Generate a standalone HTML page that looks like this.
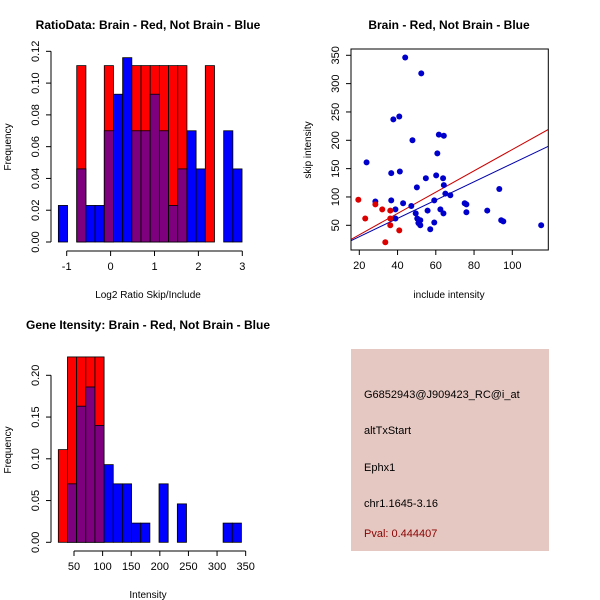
<!DOCTYPE html>
<html><head><meta charset="utf-8"><style>
body{margin:0;background:#fff;}
svg{display:block;font-family:"Liberation Sans",sans-serif;}
</style></head><body>
<svg id="s" width="600" height="600" viewBox="0 0 600 600">
<rect width="600" height="600" fill="#fff"/>
</svg>
<script>
// ---- Histogram 1 data ----
const h1BinStart = -1.19;
const h1BinWidth = 0.2092;
const h1Red  = [0,0,0.111,0,0,0.111,0,0,0.111,0.111,0.111,0.111,0.111,0.111,0,0,0.111,0,0,0];
const h1Blue = [0.023,0,0.046,0.023,0.023,0.070,0.093,0.116,0.070,0.070,0.093,0.070,0.023,0.046,0.070,0.046,0,0,0.070,0.046];
const h1XTicks = [-1,0,1,2,3];
const h1YTicks = ["0.00","0.02","0.04","0.06","0.08","0.10","0.12"];
// ---- Scatter data ----
const blueX = [44,52.4,37.8,40.9,61.6,64.2,47.8,60.8,23.8,36.7,41.2,54.8,60.2,63.8,64.2,50.1,93.2,65.0,67.6,28.4,36.7,42.9,47.2,59.2,75.1,76.0,38.9,55.7,62.4,86.9,49.5,64.0,76.0,38.9,50.3,51.9,50.9,51.9,59.2,57.1,94.2,95.3,115.1];
const blueY = [346,318,237,242,210,208,200,177,161,142,145,133,138,133,121,117,114,106,103,92,94,89,84,94,89,87,78,76,78,76,71,71,73,62,62,59,54,50,55,43,59,57,50];
const redX = [19.5,23.1,28.4,32.0,36.2,36.2,36.2,33.6,40.9];
const redY = [95,62,87,78,76,62,50,20,41];
const redLine = [-4.3,1.88];
const blueLine = [-2.3,1.613];
const scXTicks = [20,40,60,80,100];
const scYTicks = [50,100,150,200,250,300,350];
// ---- Histogram 2 data ----
const h2BinStart = 22.6;
const h2BinWidth = 16;
const h2Red  = [0.111,0.222,0.222,0.222,0.222,0,0,0,0,0,0,0,0,0,0,0,0,0,0,0];
const h2Blue = [0,0.070,0.163,0.186,0.140,0.093,0.070,0.070,0.023,0.023,0,0.070,0,0.046,0,0,0,0,0.023,0.023];
const h2XTicks = [50,100,150,200,250,300,350];
const h2YTicks = ["0.00","0.05","0.10","0.15","0.20"];

const S = document.getElementById('s');
const NS = 'http://www.w3.org/2000/svg';
function mk(tag, attrs, parent){const e=document.createElementNS(NS,tag);for(const k in attrs)e.setAttribute(k,attrs[k]);(parent||S).appendChild(e);return e;}
function txt(x,y,t,size,opts){const e=mk('text',Object.assign({x:x,y:y,'font-size':size,'text-anchor':'middle',fill:'#000'},opts||{}));e.textContent=t;return e;}

function hist(g, red, blue, start, w, X, Y){
  for(let i=0;i<red.length;i++){
    const x0=X(start+i*w), x1=X(start+(i+1)*w);
    const r=red[i], b=blue[i];
    if(r>0){const e=mk('rect',{x:x0,y:Y(r),width:x1-x0,height:Y(0)-Y(r),fill:'#ff0000',stroke:'#000','stroke-width':0.8},g);
      
      }
    if(b>0){const h=Math.min(r>0?r:b,b); 
      if(b>r||r===0){const e=mk('rect',{x:x0,y:Y(b),width:x1-x0,height:Y(0)-Y(b),fill:'#0000ff',stroke:'#000','stroke-width':0.8},g);
        
        }
      if(r>0){const m=Math.min(r,b);const e=mk('rect',{x:x0,y:Y(m),width:x1-x0,height:Y(0)-Y(m),fill:'#7f007f',stroke:'#000','stroke-width':0.8},g);
        
        }
    }
  }
}
function yAxis(g,x,ticks,Y,y0,y1){
  mk('line',{x1:x,y1:y0,x2:x,y2:y1,stroke:'#000'},g);
  ticks.forEach(t=>{const y=Y(parseFloat(t));mk('line',{x1:x-5,y1:y,x2:x,y2:y,stroke:'#000'},g);
    const e=txt(x-12,y,t,11,{transform:`rotate(-90 ${x-12} ${y})`});});
}
function xAxis(g,y,ticks,X){
  mk('line',{x1:X(ticks[0]),y1:y,x2:X(ticks[ticks.length-1]),y2:y,stroke:'#000'},g);
  ticks.forEach(t=>{const x=X(t);mk('line',{x1:x,y1:y,x2:x,y2:y+5,stroke:'#000'},g);
    const e=txt(x,y+19,String(t),11);});
}

// ---- Panel 1 ----
{
const g=mk('g',{});


const X=v=>66.7+(v+1)*43.9, Y=v=>242-v*1589;
hist(g,h1Red,h1Blue,h1BinStart,h1BinWidth,X,Y);
yAxis(g,51,h1YTicks,Y,242,51.3);
xAxis(g,251,h1XTicks,X);
const t=txt(148,29,'RatioData: Brain - Red, Not Brain - Blue',12,{'font-weight':'bold'});
const xl=txt(148,298,'Log2 Ratio Skip/Include',10);
const yl=txt(11,147,'Frequency',10,{transform:'rotate(-90 11 147)'});
}
// ---- Panel 2 ----
{
const g=mk('g',{});


const X=v=>359.3+(v-20)*1.9125, Y=v=>225.3-(v-50)*0.5667;
const L=351,R=548.3,T=49,B=250;
const cp=mk('clipPath',{id:'cp'},g);mk('rect',{x:L,y:T,width:R-L,height:B-T},cp);
const lg=mk('g',{'clip-path':'url(#cp)'},g);
const xa=(L-359.3)/1.9125+20, xb=(R-359.3)/1.9125+20;
const rl=mk('line',{x1:X(xa),y1:Y(redLine[0]+redLine[1]*xa),x2:X(xb),y2:Y(redLine[0]+redLine[1]*xb),stroke:'#cc0000','stroke-width':1},lg);

const bl=mk('line',{x1:X(xa),y1:Y(blueLine[0]+blueLine[1]*xa),x2:X(xb),y2:Y(blueLine[0]+blueLine[1]*xb),stroke:'#0000aa','stroke-width':1},lg);

blueX.forEach((x,i)=>{const c=mk('circle',{cx:X(x),cy:Y(blueY[i]),r:3,fill:'#0000cc'},g);
  });
redX.forEach((x,i)=>{const c=mk('circle',{cx:X(x),cy:Y(redY[i]),r:3,fill:'#dd0000'},g);
  });
mk('rect',{x:L,y:T,width:R-L,height:B-T,fill:'none',stroke:'#000'},g);
scYTicks.forEach(t=>{const y=Y(t);mk('line',{x1:L-5,y1:y,x2:L,y2:y,stroke:'#000'},g);
  const e=txt(L-12,y,String(t),11,{transform:`rotate(-90 ${L-12} ${y})`});});
scXTicks.forEach(t=>{const x=X(t);mk('line',{x1:x,y1:B,x2:x,y2:B+5,stroke:'#000'},g);
  const e=txt(x,B+19,String(t),11);});
const t=txt(449,29,'Brain - Red, Not Brain - Blue',12,{'font-weight':'bold'});
const xl=txt(449,298,'include intensity',10);
const yl=txt(311,150,'skip intensity',10,{transform:'rotate(-90 311 150)'});
}
// ---- Panel 3 ----
{
const g=mk('g',{});


const X=v=>74+(v-50)*0.5722, Y=v=>542.3-v*835;
hist(g,h2Red,h2Blue,h2BinStart,h2BinWidth,X,Y);
yAxis(g,51,h2YTicks,Y,542.3,375.3);
xAxis(g,551,h2XTicks,X);
const t=txt(148,329,'Gene Itensity: Brain - Red, Not Brain - Blue',12,{'font-weight':'bold'});
const xl=txt(148,598,'Intensity',10);
const yl=txt(11,450,'Frequency',10,{transform:'rotate(-90 11 450)'});
}
// ---- Info panel ----
{
const g=mk('g',{});


mk('rect',{x:351,y:349,width:198,height:202,fill:'#e5c8c1'},g);
const lines=[['G6852943@J909423_RC@i_at',398,'#000','probe-id'],['altTxStart',434,'#000','event-type'],['Ephx1',471,'#000','gene-name'],['chr1.1645-3.16',507,'#000','location'],['Pval: 0.444407',537,'#8b0000','p-value']];
lines.forEach(l=>{const e=txt(364,l[1],l[0],11,{'text-anchor':'start',fill:l[2]});
  });
}
</script>
</body></html>
